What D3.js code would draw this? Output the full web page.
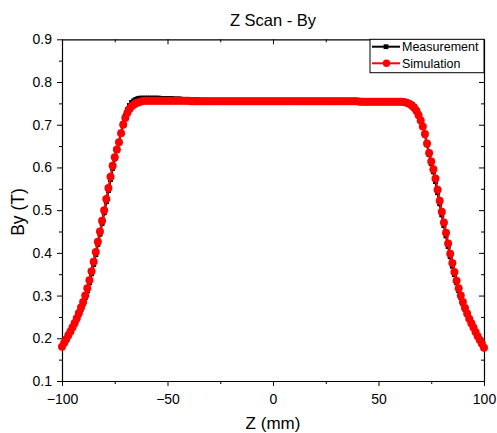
<!DOCTYPE html>
<html><head><meta charset="utf-8">
<script src="https://cdn.jsdelivr.net/npm/d3@7"></script>
<style>
body{margin:0;background:#fff}
svg text{font-family:"Liberation Sans",Arial,sans-serif;fill:#000}
</style></head>
<body><svg id="c" width="497" height="433"></svg>
<script>
// ---- data ----
const zValues = d3.range(-100, 101, 1); // Z (mm), 1 mm grid

const measurement = [
0.180,0.188,0.196,0.205,0.214,0.223,0.233,0.243,0.255,0.267,
0.280,0.295,0.311,0.330,0.351,0.373,0.396,0.420,0.444,0.469,
0.494,0.520,0.546,0.572,0.598,0.620,0.640,0.660,0.682,0.703,
0.721,0.735,0.745,0.752,0.756,0.759,0.761,0.762,0.762,0.762,
0.762,
0.762,0.762,0.762,0.762,0.762,0.762,0.761,0.761,0.761,0.761,
0.761,0.761,0.760,0.760,0.760,0.760,0.759,0.759,0.759,0.759,
0.758,0.758,0.758,0.758,0.757,0.757,0.757,0.757,0.757,0.756,
0.756,0.756,0.756,0.756,0.756,0.755,0.755,0.755,0.755,0.755,
0.755,0.755,0.755,0.755,0.755,0.755,0.755,0.755,0.755,0.755,
0.755,0.755,0.755,0.755,0.755,0.755,0.755,0.755,0.755,0.755,
0.755,0.755,0.755,0.755,0.755,0.755,0.755,0.755,0.755,0.755,
0.755,0.755,0.755,0.755,0.755,0.755,0.755,0.755,0.755,0.755,
0.755,0.755,0.755,0.755,0.755,0.755,0.755,0.755,0.755,0.755,
0.755,0.755,0.755,0.755,0.755,0.755,0.755,0.755,0.755,0.755,
0.754,0.754,0.754,0.754,0.754,0.754,0.754,0.754,0.754,0.754,
0.754,0.754,0.754,0.754,0.754,0.754,0.754,0.754,0.754,
0.755,0.755,0.754,0.753,0.752,0.750,0.747,0.742,0.735,0.725,
0.712,0.696,0.676,0.653,0.630,0.609,0.590,0.567,0.541,0.515,
0.489,0.464,0.440,0.415,0.391,0.369,0.349,0.330,0.312,0.296,
0.281,0.268,0.256,0.244,0.234,0.224,0.214,0.204,0.195,0.186,
0.178
];

const simulation = [
0.180,0.189,0.198,0.207,0.216,0.226,0.236,0.247,0.259,0.272,
0.285,0.300,0.317,0.336,0.357,0.379,0.402,0.426,0.450,0.475,
0.500,0.526,0.552,0.578,0.604,0.624,0.642,0.659,0.680,0.700,
0.716,0.728,0.737,0.743,0.747,0.750,0.752,0.754,0.755,0.756,
0.756,
0.756,0.756,0.756,0.756,0.756,0.756,0.756,0.756,0.756,0.756,
0.756,0.756,0.756,0.756,0.756,0.756,0.756,0.756,0.756,0.756,
0.755,0.755,0.755,0.755,0.755,0.755,0.755,0.755,0.755,0.755,
0.755,0.755,0.755,0.755,0.755,0.755,0.755,0.755,0.755,0.755,
0.755,0.755,0.755,0.755,0.755,0.755,0.755,0.755,0.755,0.755,
0.755,0.755,0.755,0.755,0.755,0.755,0.755,0.755,0.755,0.755,
0.755,0.755,0.755,0.755,0.755,0.755,0.755,0.755,0.755,0.755,
0.755,0.755,0.755,0.755,0.755,0.755,0.755,0.755,0.755,0.755,
0.755,0.755,0.755,0.755,0.755,0.755,0.755,0.755,0.755,0.755,
0.755,0.755,0.755,0.755,0.755,0.755,0.755,0.755,0.755,0.755,
0.754,0.754,0.754,0.754,0.754,0.754,0.754,0.754,0.754,0.754,
0.754,0.754,0.754,0.754,0.754,0.754,0.754,0.754,0.754,
0.754,0.754,0.753,0.752,0.750,0.748,0.744,0.739,0.732,0.722,
0.710,0.696,0.678,0.656,0.634,0.614,0.596,0.574,0.548,0.522,
0.496,0.471,0.447,0.422,0.398,0.376,0.355,0.335,0.317,0.300,
0.285,0.271,0.258,0.246,0.235,0.225,0.215,0.205,0.196,0.187,
0.178
];

const xTicks = [-100, -50, 0, 50, 100];
const xMinorTicks = [-75, -25, 25, 75];
const yTicks = [0.1, 0.2, 0.3, 0.4, 0.5, 0.6, 0.7, 0.8, 0.9];
const yMinorTicks = [0.15, 0.25, 0.35, 0.45, 0.55, 0.65, 0.75, 0.85];
const seriesNames = ["Measurement", "Simulation"];
const titleText = "Z Scan - By";
const xTitle = "Z (mm)";
const yTitle = "By (T)";

// ---- drawing ----
const svg = d3.select("#c");
const L = 62, R = 484, T = 39.3, B = 381;
const x = d3.scaleLinear().domain([-100, 100]).range([L, R]);
const y = d3.scaleLinear().domain([0.1, 0.9]).range([B, T]);

function styleAxis(g, noDomain) {
  g.selectAll("line").attr("stroke", "#000").attr("stroke-width", 1);
  g.select(".domain").attr("stroke", "#000").attr("stroke-width", 1.2);
  if (noDomain) g.select(".domain").remove();
  g.selectAll("text").style("font-size", "14px").attr("fill", "#000");
}

// bottom
svg.append("g").attr("transform", `translate(0,${B})`)
  .call(d3.axisBottom(x).tickValues(xTicks).tickSize(5).tickPadding(8).tickSizeOuter(0))
  .call(g => styleAxis(g, false));
svg.append("g").attr("transform", `translate(0,${B})`)
  .call(d3.axisBottom(x).tickValues(xMinorTicks).tickSize(3).tickFormat("").tickSizeOuter(0))
  .call(g => styleAxis(g, true));
// top
svg.append("g").attr("transform", `translate(0,${T})`)
  .call(d3.axisTop(x).tickValues(xTicks).tickSize(-5).tickFormat("").tickSizeOuter(0))
  .call(g => styleAxis(g, false));
svg.append("g").attr("transform", `translate(0,${T})`)
  .call(d3.axisTop(x).tickValues(xMinorTicks).tickSize(-3).tickFormat("").tickSizeOuter(0))
  .call(g => styleAxis(g, true));
// left
svg.append("g").attr("transform", `translate(${L},0)`)
  .call(d3.axisLeft(y).tickValues(yTicks).tickSize(5).tickPadding(5).tickFormat(d3.format(".1f")).tickSizeOuter(0))
  .call(g => styleAxis(g, false));
svg.append("g").attr("transform", `translate(${L},0)`)
  .call(d3.axisLeft(y).tickValues(yMinorTicks).tickSize(3).tickFormat("").tickSizeOuter(0))
  .call(g => styleAxis(g, true));
// right
svg.append("g").attr("transform", `translate(${R},0)`)
  .call(d3.axisRight(y).tickValues(yTicks).tickSize(-5).tickFormat("").tickSizeOuter(0))
  .call(g => styleAxis(g, false));
svg.append("g").attr("transform", `translate(${R},0)`)
  .call(d3.axisRight(y).tickValues(yMinorTicks).tickSize(-3).tickFormat("").tickSizeOuter(0))
  .call(g => styleAxis(g, true));

const measData = zValues.map((z, i) => [z, measurement[i]]);
const simData = zValues.map((z, i) => [z, simulation[i]]);
const line = d3.line().x(d => x(d[0])).y(d => y(d[1]));

// measurement
svg.append("path").datum(measData).attr("d", line)
  .attr("fill", "none").attr("stroke", "#000").attr("stroke-width", 2.2);
svg.append("g").selectAll("rect").data(measData).join("rect")
  .attr("x", d => x(d[0]) - 2.5).attr("y", d => y(d[1]) - 2.5)
  .attr("width", 5).attr("height", 5).attr("fill", "#000");

// simulation
svg.append("path").datum(simData).attr("d", line)
  .attr("fill", "none").attr("stroke", "#ff0000").attr("stroke-width", 2);
svg.append("g").selectAll("circle").data(simData).join("circle")
  .attr("cx", d => x(d[0])).attr("cy", d => y(d[1])).attr("r", 4)
  .attr("fill", "#ff0000");

// legend
const lg = svg.append("g");
lg.append("rect").attr("x", 370).attr("y", T).attr("width", R - 370).attr("height", 33.4)
  .attr("fill", "#fff").attr("stroke", "#000").attr("stroke-width", 1);
const rows = [46.7, 63.3];
const colors = ["#000", "#ff0000"];
seriesNames.forEach((name, i) => {
  const yy = rows[i];
  lg.append("line").attr("x1", 372).attr("x2", 400).attr("y1", yy).attr("y2", yy)
    .attr("stroke", colors[i]).attr("stroke-width", 2);
  if (i === 0) {
    lg.append("rect").attr("x", 386 - 2.4).attr("y", yy - 2.4).attr("width", 4.8).attr("height", 4.8).attr("fill", "#000");
  } else {
    lg.append("circle").attr("cx", 386.5).attr("cy", yy).attr("r", 3.7).attr("fill", "#ff0000");
  }
  lg.append("text").attr("x", 402).attr("y", yy).attr("dy", "0.36em")
    .style("font-size", "12.5px").text(name);
});

// titles
svg.append("text").attr("x", (L + R) / 2).attr("y", 26).attr("text-anchor", "middle")
  .style("font-size", "16.5px").text(titleText);
svg.append("text").attr("x", (L + R) / 2).attr("y", 429).attr("text-anchor", "middle")
  .style("font-size", "17px").text(xTitle);
svg.append("text").attr("transform", "translate(24,212) rotate(-90)").attr("text-anchor", "middle")
  .style("font-size", "17.5px").text(yTitle);
</script></body></html>
